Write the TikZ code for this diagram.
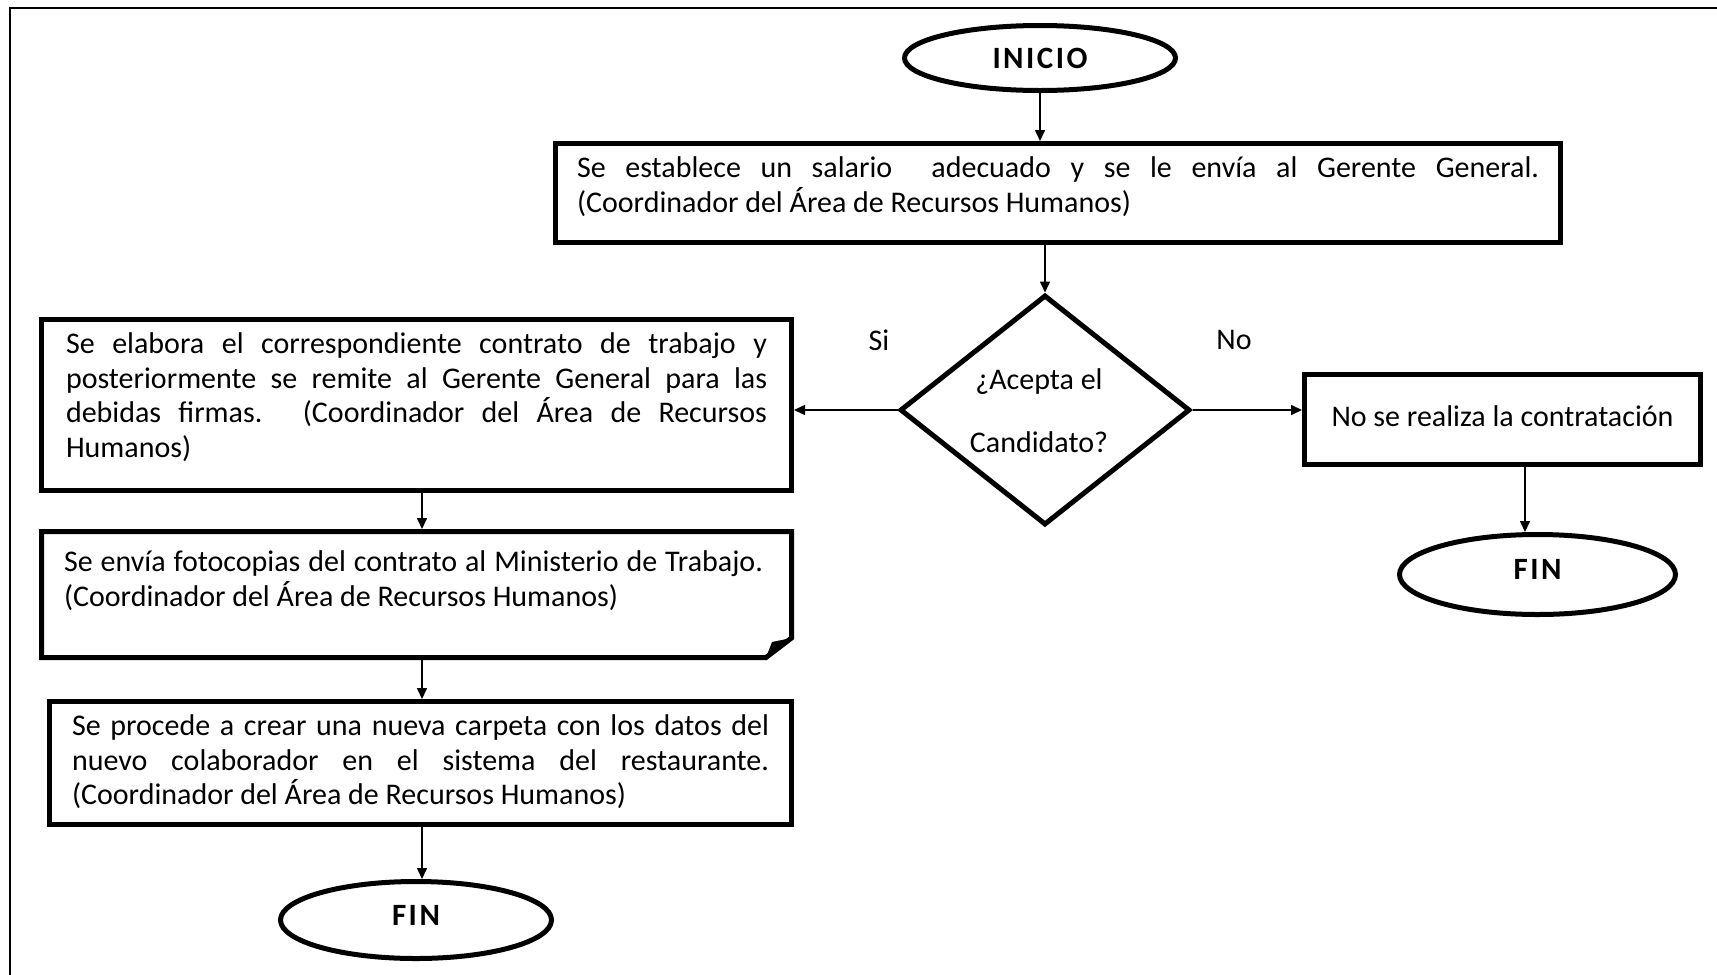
\documentclass[tikz,border=0pt]{standalone}
\usepackage{fontspec}
\setmainfont{Carlito}
\usetikzlibrary{shapes.geometric,arrows.meta}

\newcommand{\bodytext}{\fontsize{30}{34.5}\selectfont}
\newcommand{\jline}[2]{\makebox[#1][s]{#2}}

\begin{document}
\begin{tikzpicture}[x=1pt,y=-1pt,
  every node/.style={inner sep=0pt, outer sep=0pt},
  boxline/.style={draw, line width=5pt, outer sep=2.5pt},
  procbox/.style={boxline, rectangle},
  terminal/.style={boxline, ellipse,
    font=\fontsize{31}{31}\selectfont\bfseries\addfontfeatures{LetterSpace=8}},
  endterm/.style={terminal, text depth=10pt},
  decision/.style={boxline, diamond},
  flow/.style={line width=1.6pt, -{Triangle[length=11pt,width=10pt]}},
  plain/.style={font=\bodytext},
]
\useasboundingbox (0,0) rectangle (1717,975);

% page frame (open to the right and bottom)
\draw[line width=2pt] (10,975) -- (10,8) -- (1717,8);

% start and salary step
\node[terminal, minimum width=271pt, minimum height=65pt] (start) at (1040,58) {INICIO};
\node[procbox, minimum width=1005pt, minimum height=99pt] (s1) at (1058,193)
  {\parbox[c][72pt][t]{962pt}{\bodytext
   \jline{962pt}{Se establece un salario\ \ adecuado y se le envía al Gerente General.}\\
   (Coordinador del Área de Recursos Humanos)}};

% decision
\node[decision, minimum width=290pt, minimum height=230pt] (dec) at (1045,410) {};
\node[font=\fontsize{30}{63}\selectfont, align=center] (dectxt) at (1039,411)
  {¿Acepta el\\Candidato?};
\node[plain] (si) at (879,340) {Si};
\node[plain] (no) at (1234,340) {No};

% "No" branch
\node[procbox, minimum width=396pt, minimum height=90pt, text depth=7pt] (nobox) at (1502.5,419.5)
  {\bodytext No se realiza la contratación};
\node[endterm, minimum width=276pt, minimum height=80pt] (finR) at (1537.5,574.5) {FIN};

% "Si" branch
\node[procbox, minimum width=750pt, minimum height=171pt] (c1) at (416.5,405)
  {\parbox[c][144pt][t]{701pt}{\bodytext
   \jline{701pt}{Se elabora el correspondiente contrato de trabajo y}\\
   \jline{701pt}{posteriormente se remite al Gerente General para las}\\
   \jline{701pt}{debidas firmas. (Coordinador del Área de Recursos}\\
   Humanos)}};

\node[rectangle, minimum width=755pt, minimum height=131pt] (c2) at (416.5,594.5)
  {\parbox[c][87pt][t]{705pt}{\bodytext
   \jline{699pt}{Se envía fotocopias del contrato al Ministerio de Trabajo.}\\
   (Coordinador del Área de Recursos Humanos)}};
% document outline with a folded lower right corner
\draw[line width=5pt, line join=miter]
  ([shift={(2.5pt,-2.5pt)}]c2.north west) -- ([shift={(-2.5pt,-2.5pt)}]c2.north east)
  -- ([shift={(-2.5pt,22pt)}]c2.south east) -- ([shift={(-28pt,2.5pt)}]c2.south east)
  -- ([shift={(2.5pt,2.5pt)}]c2.south west) -- cycle;
\fill ([shift={(-28pt,2.5pt)}]c2.south east) -- ([shift={(-22pt,18pt)}]c2.south east)
  -- ([shift={(-2.5pt,22pt)}]c2.south east) -- cycle;

\node[procbox, minimum width=742pt, minimum height=123pt] (c3) at (420.5,763)
  {\parbox[c][96pt][t]{697pt}{\bodytext
   \jline{697pt}{Se procede a crear una nueva carpeta con los datos del}\\
   \jline{697pt}{nuevo colaborador en el sistema del restaurante.}\\
   (Coordinador del Área de Recursos Humanos)}};
\node[endterm, minimum width=271pt, minimum height=77pt] (finL) at (416,920) {FIN};

% connectors
\coordinate (lj) at (422,0);
\coordinate (rj) at (1525,0);
\draw[flow] (start.south) -- (start.south |- s1.north);
\draw[flow] (dec.north |- s1.south) -- (dec.north);
\draw[flow] (dec.west) -- (dec.west -| c1.east);
\draw[flow] (dec.east) -- (dec.east -| nobox.west);
\draw[flow] (rj |- nobox.south) -- (rj |- finR.north);
\draw[flow] (lj |- c1.south) -- (lj |- c2.north);
\draw[flow] (lj |- c2.south) -- (lj |- c3.north);
\draw[flow] (lj |- c3.south) -- (lj |- finL.north);
\end{tikzpicture}
\end{document}
